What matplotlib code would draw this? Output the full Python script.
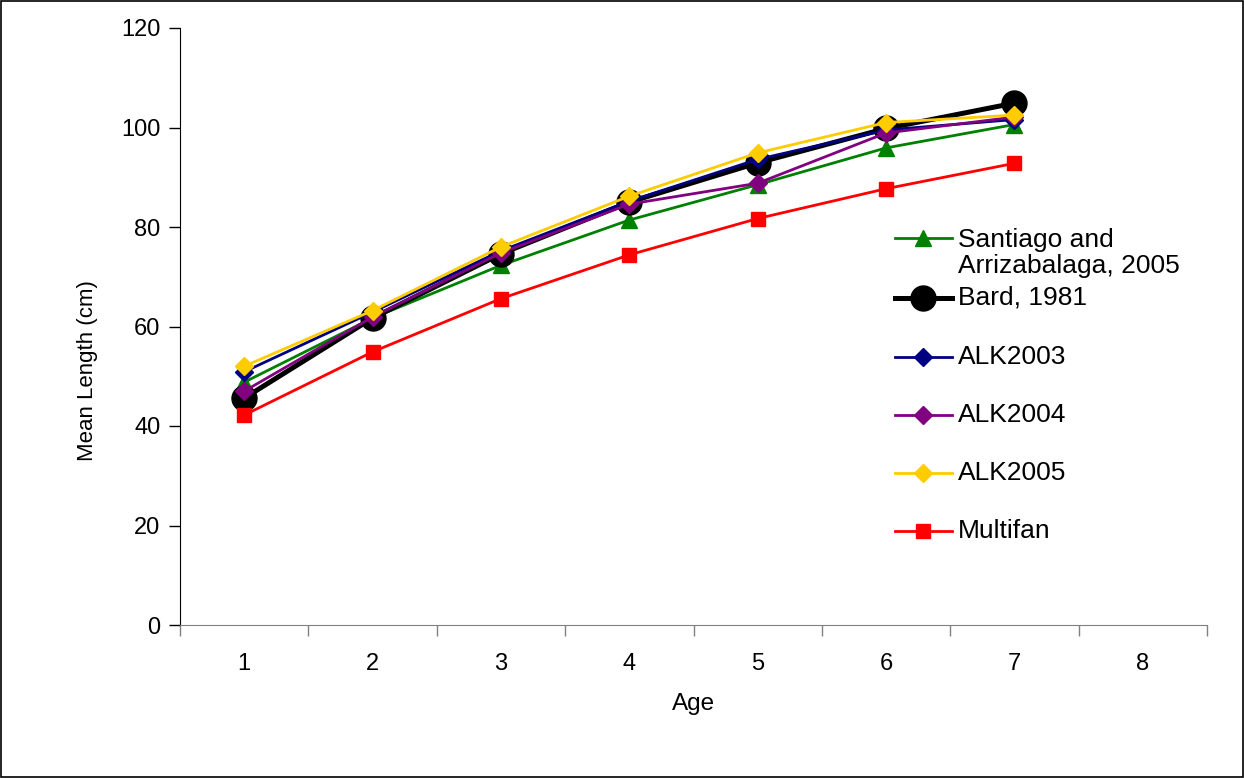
import matplotlib.pyplot as plt
from matplotlib.lines import Line2D

plt.rcParams['font.family'] = ['Liberation Sans', 'DejaVu Sans']

# mean length at age (cm) for each growth estimate
ages = [1, 2, 3, 4, 5, 6, 7]
santiago = [48.8, 61.7, 72.3, 81.4, 88.5, 95.9, 100.6]
bard = [45.6, 61.7, 74.6, 85.0, 92.9, 99.8, 104.9]
alk2003 = [50.9, 62.9, 75.2, 85.2, 93.6, 99.5, 101.6]
alk2004 = [47.0, 61.9, 74.8, 84.6, 88.8, 98.9, 102.1]
alk2005 = [52.0, 63.2, 76.0, 86.2, 94.9, 101.0, 102.5]
multifan = [42.2, 54.9, 65.6, 74.4, 81.7, 87.7, 92.8]

labels = ['Santiago and\nArrizabalaga, 2005', 'Bard, 1981', 'ALK2003',
          'ALK2004', 'ALK2005', 'Multifan']
x_ticklabels = ['1', '2', '3', '4', '5', '6', '7', '8']

series = [santiago, bard, alk2003, alk2004, alk2005, multifan]
styles = [
    dict(color='#008000', lw=2.0, marker='^', ms=12),
    dict(color='black', lw=3.6, marker='o', ms=18),
    dict(color='#000080', lw=2.0, marker='D', ms=9.5),
    dict(color='#800080', lw=2.0, marker='D', ms=9.5),
    dict(color='#FFCC00', lw=2.0, marker='D', ms=9.5),
    dict(color='#FF0000', lw=2.0, marker='s', ms=10.5),
]

W, H = 1244, 778
fig = plt.figure(figsize=(W / 100, H / 100), dpi=100)
ax = fig.add_axes([180 / W, 1 - 625 / H, (1207 - 180) / W, (625 - 28) / H])

for values, style, label in zip(series, styles, labels):
    ax.plot(ages, values, label=label, **style)

ax.set_xlim(0.5, 8.5)
ax.set_ylim(0, 120)
ax.set_yticks(range(0, 121, 20))
ax.set_xticks(range(1, 9))
ax.set_xticklabels(x_ticklabels)
ax.set_xticks([i + 0.5 for i in range(0, 9)], minor=True)
ax.tick_params(axis='x', which='major', length=0, pad=20, labelsize=17)
ax.tick_params(axis='x', which='minor', length=8, width=1, color='#808080', direction='out')
ax.tick_params(axis='y', length=8, width=1, direction='out', pad=6, labelsize=17)

for side in ['top', 'right']:
    ax.spines[side].set_visible(False)
ax.spines['bottom'].set_color('#808080')
ax.spines['left'].set_color('black')

ax.set_xlabel('Age', fontsize=17.5)
ax.xaxis.set_label_coords(0.5, (625 - 704) / 597)
ax.xaxis.label.set_verticalalignment('center')
ax.set_ylabel('Mean Length (cm)', fontsize=16)
ax.yaxis.set_label_coords((88 - 180) / 1027, (625 - 371) / 597)
ax.yaxis.label.set_verticalalignment('center')

# legend drawn by hand so the two-line entry keeps its handle on the first line
entry_y = [238, 298, 357, 415, 473, 531]
for y, style, label in zip(entry_y, styles, labels):
    fy = 1 - y / H
    handle = Line2D([895 / W, 923 / W, 952 / W], [fy, fy], transform=fig.transFigure,
                    markevery=[1], **style)
    handle.set_xdata([895 / W, 923 / W, 952 / W])
    handle.set_ydata([fy, fy, fy])
    fig.add_artist(handle)
    text_y = fy - 15 / H if '\n' in label else fy
    fig.text(958 / W, text_y, label, fontsize=19, va='center', ha='left',
             linespacing=1.15)

# outer chart border
fig.add_artist(plt.Rectangle((0.001, 0.001), 0.998, 0.998, transform=fig.transFigure,
                             fill=False, edgecolor='black', lw=1.2))

fig.savefig('out.png', dpi=100)
